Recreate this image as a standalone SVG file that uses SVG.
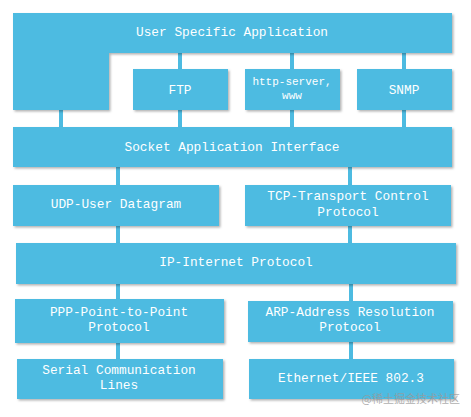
<svg xmlns="http://www.w3.org/2000/svg" width="471" height="417" viewBox="0 0 471 417">
<defs>
<filter id="sh" x="-5%" y="-10%" width="115%" height="130%">
<feDropShadow dx="1.5" dy="1.5" stdDeviation="1" flood-color="#000" flood-opacity="0.3"/>
</filter>
<style>
.b{fill:#4DBBE1;filter:url(#sh)}
.t{font-family:"Liberation Mono","DejaVu Sans Mono",monospace;font-size:12.8px;fill:#ffffff;text-anchor:middle}
.s{font-size:11px}
.c{stroke:#4DBBE1;stroke-width:4;fill:none}
</style>
</defs>
<rect width="471" height="417" fill="#ffffff"/>
<g id="connectors">
<line class="c" x1="180" y1="53" x2="180" y2="127"/>
<line class="c" x1="292" y1="53" x2="292" y2="127"/>
<line class="c" x1="404" y1="53" x2="404" y2="127"/>
<line class="c" x1="61" y1="110" x2="61" y2="127"/>
<line class="c" x1="118" y1="167" x2="118" y2="243"/>
<line class="c" x1="350" y1="167" x2="350" y2="243"/>
<line class="c" x1="118" y1="284" x2="118" y2="359"/>
<line class="c" x1="351" y1="284" x2="351" y2="359"/>
</g>
<g id="user-app">
<path class="b" d="M13 13 H452 V53 H109 V110 H13 Z"/>
<text class="t" x="232" y="36">User Specific Application</text>
</g>
<g id="ftp">
<rect class="b" x="133" y="69" width="95" height="41"/>
<text class="t" x="180" y="94">FTP</text>
</g>
<g id="http">
<rect class="b" x="245" y="69" width="95" height="41"/>
<text class="t s" x="292" y="85">http-server,</text>
<text class="t s" x="292" y="99">www</text>
</g>
<g id="snmp">
<rect class="b" x="357" y="69" width="95" height="41"/>
<text class="t" x="404" y="94">SNMP</text>
</g>
<g id="socket">
<rect class="b" x="13" y="127" width="439" height="40"/>
<text class="t" x="232" y="151">Socket Application Interface</text>
</g>
<g id="udp">
<rect class="b" x="13" y="185" width="206" height="41"/>
<text class="t" x="116" y="208">UDP-User Datagram</text>
</g>
<g id="tcp">
<rect class="b" x="245" y="185" width="206" height="41"/>
<text class="t" x="348" y="200">TCP-Transport Control</text>
<text class="t" x="348" y="216">Protocol</text>
</g>
<g id="ip">
<rect class="b" x="16" y="243" width="440" height="41"/>
<text class="t" x="236" y="266">IP-Internet Protocol</text>
</g>
<g id="ppp">
<rect class="b" x="15" y="299" width="209" height="44"/>
<text class="t" x="119" y="316">PPP-Point-to-Point</text>
<text class="t" x="119" y="331">Protocol</text>
</g>
<g id="arp">
<rect class="b" x="248" y="301" width="205" height="41"/>
<text class="t" x="350" y="316">ARP-Address Resolution</text>
<text class="t" x="350" y="331">Protocol</text>
</g>
<g id="serial">
<rect class="b" x="17" y="359" width="206" height="40"/>
<text class="t" x="119" y="374">Serial Communication</text>
<text class="t" x="119" y="389">Lines</text>
</g>
<g id="ethernet">
<rect class="b" x="249" y="359" width="205" height="40"/>
<text class="t" x="351" y="382">Ethernet/IEEE 802.3</text>
</g>
<text x="460" y="403" font-family="'Noto Sans CJK SC',sans-serif" font-size="11" fill="#9a9a9a" fill-opacity="0.8" text-anchor="end">@稀土掘金技术社区</text>
</svg>
